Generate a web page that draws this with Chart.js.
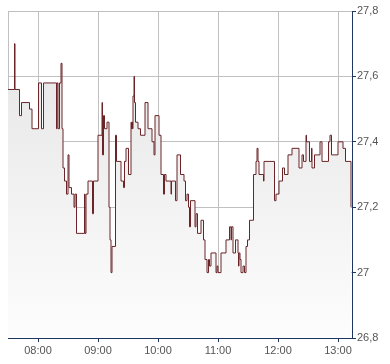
<!DOCTYPE html>
<html>
<head>
<meta charset="utf-8">
<script src="https://cdn.jsdelivr.net/npm/chart.js@4.4.1/dist/chart.umd.min.js"></script>
<style>
  html, body { margin: 0; padding: 0; background: #fff; }
  #wrap { width: 390px; height: 364px; }
</style>
</head>
<body>
<div id="wrap"><canvas id="price-chart" width="390" height="364"></canvas></div>
<script>
// trade times in minutes since midnight (07:30 = 450) and the price set at that time
const tradeMinutes = [
  450, 456.5, 457, 461.5, 463.5, 471.5, 474, 480.5, 483.5, 485.5,
  498.5, 499, 500, 501.5, 503, 504, 505, 506.5, 508.5, 510,
  511, 513.5, 516, 517, 518.5, 526.5, 527, 528, 530, 534.5,
  535.5, 540, 544, 544.5, 545.5, 546.5, 549, 551, 552, 553,
  554, 557.5, 558.5, 563, 565.5, 566.5, 568, 570.5, 573, 573.5,
  574, 574.5, 575, 576, 576.5, 577.5, 580, 582.5, 587, 590,
  594, 596, 597, 601, 603, 605.5, 606.5, 608, 613, 613.5,
  617.5, 619, 622.5, 626, 627.5, 629, 630.5, 631.5, 632.5, 637,
  638, 639.5, 643, 645.5, 647, 649, 650.5, 651.5, 653, 658,
  659, 660, 663, 668, 671.5, 673, 673.5, 675, 677.5, 680,
  680.5, 681, 682, 683, 685, 686.5, 688, 689.5, 691.5, 695.5,
  698, 699, 700, 701, 705.5, 706, 716.5, 718, 721, 724.5,
  726.5, 730, 734, 741, 744, 745.5, 748, 748.5, 751.5, 753.5,
  754, 756.5, 762, 764, 770.5, 772, 773.5, 780, 785, 787.5,
  793
];
const tradePrices = [
  27.56, 27.70, 27.56, 27.48, 27.52, 27.50, 27.44, 27.58, 27.44, 27.58,
  27.44, 27.58, 27.44, 27.58, 27.64, 27.44, 27.32, 27.28, 27.24, 27.36,
  27.26, 27.24, 27.20, 27.24, 27.12, 27.24, 27.12, 27.24, 27.28, 27.18,
  27.28, 27.42, 27.52, 27.36, 27.48, 27.44, 27.46, 27.20, 27.10, 27.00,
  27.08, 27.42, 27.34, 27.28, 27.26, 27.34, 27.38, 27.30, 27.46, 27.44,
  27.46, 27.44, 27.54, 27.60, 27.52, 27.46, 27.44, 27.42, 27.52, 27.44,
  27.40, 27.36, 27.48, 27.42, 27.30, 27.24, 27.30, 27.28, 27.24, 27.28,
  27.22, 27.36, 27.30, 27.28, 27.22, 27.24, 27.20, 27.14, 27.22, 27.14,
  27.18, 27.12, 27.16, 27.10, 27.04, 27.00, 27.04, 27.02, 27.06, 27.00,
  27.02, 27.00, 27.06, 27.10, 27.14, 27.10, 27.14, 27.06, 27.10, 27.06,
  27.02, 27.06, 27.04, 27.00, 27.02, 27.00, 27.08, 27.10, 27.16, 27.30,
  27.34, 27.38, 27.34, 27.30, 27.28, 27.34, 27.22, 27.24, 27.28, 27.32,
  27.30, 27.36, 27.38, 27.32, 27.36, 27.34, 27.42, 27.40, 27.34, 27.38,
  27.32, 27.36, 27.40, 27.34, 27.40, 27.42, 27.36, 27.40, 27.38, 27.34,
  27.20
];

// axis ranges and tick marks
const timeMin = 450;
const timeMax = 794;
const hourTicks = [480, 540, 600, 660, 720, 780];
const priceMin = 26.8;
const priceMax = 27.8;
const priceStep = 0.2;

const points = tradeMinutes.map((t, i) => ({ x: t, y: tradePrices[i] }));

const gridColor = '#c0c0c0';
const axisColor = '#1c3660';
const labelFont = { family: '"Liberation Sans", Arial, sans-serif', size: 11 };

// format minutes as hh:mm
const minutesLabel = (m) => {
    const h = Math.floor(m / 60);
    const mm = Math.round(m % 60);
    return `${String(h).padStart(2, '0')}:${String(mm).padStart(2, '0')}`;
};

new Chart(document.getElementById('price-chart'), {
    type: 'line',
    data: {
        datasets: [{
            data: points,
            stepped: true,
            borderColor: '#6b2529',
            borderWidth: 1,
            pointRadius: 0,
            fill: 'start',
            backgroundColor: (context) => {
                const { ctx, chartArea } = context.chart;
                if (!chartArea) return '#eeeeee';
                const g = ctx.createLinearGradient(0, chartArea.top, 0, chartArea.bottom);
                g.addColorStop(0, '#e3e3e3');
                g.addColorStop(1, '#fdfdfd');
                return g;
            }
        }]
    },
    options: {
        responsive: false,
        animation: false,
        devicePixelRatio: 1,
        layout: { padding: { left: 8, top: 11, right: 0, bottom: 0 } },
        plugins: {
            legend: { display: false },
            tooltip: { enabled: false }
        },
        scales: {
            x: {
                type: 'linear',
                min: timeMin,
                max: timeMax,
                afterBuildTicks: (scale) => {
                    // left edge gets a gridline but no label
                    scale.ticks = [timeMin, ...hourTicks].map(v => ({ value: v }));
                },
                afterFit: (scale) => { scale.height = 26; },
                grid: {
                    color: gridColor,
                    tickLength: 4,
                    tickColor: (ctx) => ctx.tick && ctx.tick.value === timeMin ? 'rgba(0,0,0,0)' : axisColor
                },
                border: { color: axisColor, width: 1 },
                ticks: {
                    autoSkip: false,
                    maxRotation: 0,
                    padding: 2,
                    color: '#555',
                    font: labelFont,
                    callback: (v) => v === timeMin ? '' : minutesLabel(v)
                }
            },
            y: {
                position: 'right',
                min: priceMin,
                max: priceMax,
                afterFit: (scale) => { scale.width = 38; },
                grid: {
                    color: gridColor,
                    tickLength: 4,
                    tickColor: axisColor
                },
                border: { color: axisColor, width: 1 },
                ticks: {
                    stepSize: priceStep,
                    padding: 1,
                    color: '#555',
                    font: labelFont,
                    callback: (v) => String(Number(v.toFixed(1))).replace('.', ',')
                }
            }
        }
    }
});
</script>
</body>
</html>
